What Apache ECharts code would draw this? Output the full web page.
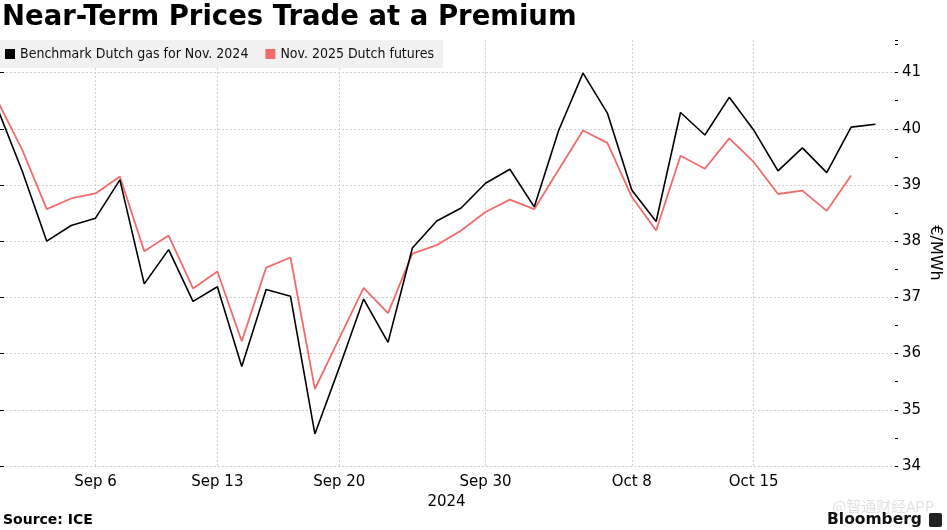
<!DOCTYPE html>
<html>
<head>
<meta charset="utf-8">
<script src="https://cdn.jsdelivr.net/npm/echarts@6/dist/echarts.min.js"></script>
<style>
html,body{margin:0;padding:0;background:#fff;}
#chart{width:947px;height:530px;}
</style>
</head>
<body>
<div id="chart"></div>
<script>
// Business days, Sep 2 – Oct 22, 2024
var dates = ['Sep 2','Sep 3','Sep 4','Sep 5','Sep 6','Sep 9','Sep 10','Sep 11','Sep 12','Sep 13',
  'Sep 16','Sep 17','Sep 18','Sep 19','Sep 20','Sep 23','Sep 24','Sep 25','Sep 26','Sep 27',
  'Sep 30','Oct 1','Oct 2','Oct 3','Oct 4','Oct 7','Oct 8','Oct 9','Oct 10','Oct 11',
  'Oct 14','Oct 15','Oct 16','Oct 17','Oct 18','Oct 21','Oct 22'];
var tickLabels = ['Sep 6','Sep 13','Sep 20','Sep 30','Oct 8','Oct 15'];
var yTicks = [34, 35, 36, 37, 38, 39, 40, 41];

var nameBenchmark = 'Benchmark Dutch gas for Nov. 2024';
var nameFutures = 'Nov. 2025 Dutch futures';

var benchmark = [40.34, 39.24, 38.00, 38.28, 38.41, 39.09, 37.24, 37.85, 36.93, 37.19,
  35.77, 37.14, 37.02, 34.57, 35.75, 36.97, 36.20, 37.88, 38.36, 38.59,
  39.03, 39.28, 38.61, 39.97, 40.99, 40.28, 38.91, 38.35, 40.29, 39.89,
  40.56, 39.98, 39.25, 39.66, 39.22, 40.03, 40.08];
var futures = [40.48, 39.62, 38.57, 38.76, 38.85, 39.15, 37.82, 38.10, 37.16, 37.46,
  36.22, 37.53, 37.71, 35.37, 36.27, 37.17, 36.72, 37.78, 37.93, 38.19,
  38.52, 38.74, 38.57, 39.27, 39.97, 39.75, 38.79, 38.19, 39.52, 39.29,
  39.83, 39.41, 38.84, 38.90, 38.54, 39.17];

var tickIdx = tickLabels.map(function (l) { return dates.indexOf(l); });
function pairs(arr) { return arr.map(function (v, i) { return [i, v]; }); }

var chart = echarts.init(document.getElementById('chart'), null, {renderer: 'canvas'});
var gridColor = '#cfcfcf';
var baseFont = 'DejaVu Sans';

chart.setOption({
  animation: false,
  backgroundColor: '#ffffff',
  title: {
    text: 'Near-Term Prices Trade at a Premium',
    left: 2, top: 4, padding: 0,
    textStyle: {fontFamily: baseFont, fontWeight: 'bold', fontSize: 27.5, color: '#000', lineHeight: 27}
  },
  legend: {
    left: 0, top: 40,
    padding: [7, 9, 7, 5],
    backgroundColor: '#f1f1f1',
    itemWidth: 10, itemHeight: 10, itemGap: 17,
    icon: 'rect',
    data: [nameBenchmark, nameFutures],
    textStyle: {fontFamily: 'DejaVu Sans Condensed', fontSize: 14, color: '#111', lineHeight: 14}
  },
  grid: {left: -2, right: 52, top: 40, bottom: 64, containLabel: false, outerBoundsMode: 'none'},
  xAxis: {
    type: 'value',
    min: 0, max: 36.8,
    name: '2024',
    nameLocation: 'middle',
    nameGap: 26,
    nameTextStyle: {fontFamily: baseFont, fontSize: 15, color: '#000'},
    axisLine: {show: false},
    axisTick: {show: false, customValues: tickIdx},
    axisLabel: {
      customValues: tickIdx,
      margin: 9,
      fontFamily: baseFont, fontSize: 15, color: '#000',
      formatter: function (v) { return dates[Math.round(v)]; }
    },
    splitLine: {show: true, lineStyle: {color: gridColor, type: [2, 2], width: 1}}
  },
  yAxis: [{
    type: 'value',
    position: 'right',
    min: 34, max: 41.58, interval: 1,
    name: '€/MWh',
    nameLocation: 'middle',
    nameRotate: -90,
    nameGap: 32,
    nameMoveOverlap: false,
    nameTextStyle: {fontFamily: baseFont, fontSize: 16, color: '#000'},
    axisLine: {show: true, lineStyle: {color: '#000', width: 1}},
    axisTick: {show: true, length: 6, lineStyle: {color: '#000'}},
    axisLabel: {show: true, margin: 7, showMaxLabel: false, fontFamily: baseFont, fontSize: 15, color: '#000'},
    splitLine: {show: true, showMaxLine: false, lineStyle: {color: gridColor, type: [2, 2], width: 1}}
  }, {
    type: 'value',
    position: 'right',
    min: 34, max: 41.58, interval: 0.5,
    axisLine: {show: false},
    axisTick: {show: true, length: 3, lineStyle: {color: '#000'}},
    axisLabel: {show: false},
    splitLine: {show: false}
  }],
  series: [{
    name: nameBenchmark,
    type: 'line',
    data: pairs(benchmark),
    showSymbol: false,
    z: 3,
    itemStyle: {color: '#000000'},
    lineStyle: {color: '#000000', width: 1.6}
  }, {
    name: nameFutures,
    type: 'line',
    data: pairs(futures),
    showSymbol: false,
    z: 2,
    itemStyle: {color: '#f26b6b'},
    lineStyle: {color: '#f06c6c', width: 1.8}
  }],
  graphic: [{
    type: 'text', left: 3, top: 513,
    style: {text: 'Source: ICE', fontFamily: baseFont, fontWeight: 'bold', fontSize: 14, fill: '#000'}
  }, {
    type: 'text', left: 832, top: 499,
    style: {text: '@智通财经APP', fontFamily: 'Noto Sans CJK SC', fontSize: 15, fill: 'rgba(0,0,0,0.12)'}
  }, {
    type: 'text', left: 827, top: 512,
    style: {text: 'Bloomberg', fontFamily: baseFont, fontWeight: 'bold', fontSize: 15.5, fill: '#111'}
  }, {
    type: 'rect', left: 929, top: 513,
    shape: {width: 13, height: 14, r: 2},
    style: {fill: '#222'}
  }]
});
</script>
</body>
</html>
